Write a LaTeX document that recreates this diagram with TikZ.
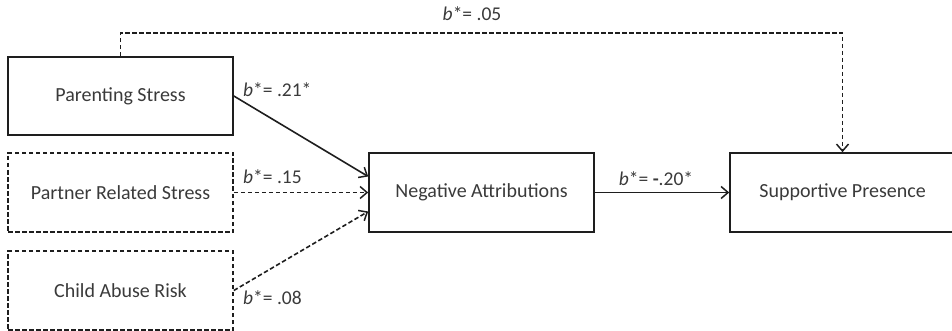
\documentclass[tikz,border=0pt]{standalone}
\usepackage{fontspec}
\setmainfont{Carlito}
\usetikzlibrary{arrows.meta,calc}
\definecolor{txt}{HTML}{3A3A3A}
\definecolor{ln}{HTML}{1E1E1E}
\begin{document}
\begin{tikzpicture}[x=1pt,y=-1pt,
  box/.style={draw=ln,line width=1.6pt,minimum width=225pt,minimum height=79pt,inner sep=0pt,font=\fontsize{20}{23}\selectfont,text=txt},
  dbox/.style={box,dash pattern=on 4.5pt off 2.5pt},
  conn/.style={draw=ln,line width=1.6pt,-{Straight Barb[length=7pt,width=12pt,line width=1.5pt]}},
  dconn/.style={conn,dash pattern=on 4.5pt off 2.5pt},
  lbl/.style={font=\fontsize{19.5}{22}\selectfont,text=txt,inner sep=0pt}]
\useasboundingbox (0,0) rectangle (952,331);
\clip (0,0) rectangle (952,331);
\node[box,minimum height=78pt] (ps) at (120.5,96) {Parenting Stress};
\node[dbox] (pr) at (120.5,192.5) {Partner Related Stress};
\node[dbox] (ca) at (120.5,290.5) {Child Abuse Risk};
\node[box] (na) at (481.5,192.5) {Negative Attributions};
\node[box] (sp) at (842.5,192.5) {Supportive Presence};
\coordinate (top) at (0,33);
\draw[dconn] (ps.north) -- (ps.north |- top) -| (sp.north);
\draw[conn] (ps.east) -- ($(na.west)+(0,-16)$);
\draw[dconn] (pr.east) -- (na.west);
\draw[dconn] (ca.east) -- ($(na.west)+(0,19)$);
\draw[conn] (na.east) -- (sp.west);
\node[lbl,anchor=west] (l1) at (243,90) {\textit{b}*= .21*};
\node[lbl,anchor=west] (l2) at (243,177) {\textit{b}*= .15};
\node[lbl,anchor=west] (l3) at (243,298) {\textit{b}*= .08};
\node[lbl] (l4) at (656,179) {\textit{b}*= \textbf{-}.20*};
\node[lbl] (l5) at (472,14) {\textit{b}*= .05};
\end{tikzpicture}
\end{document}
